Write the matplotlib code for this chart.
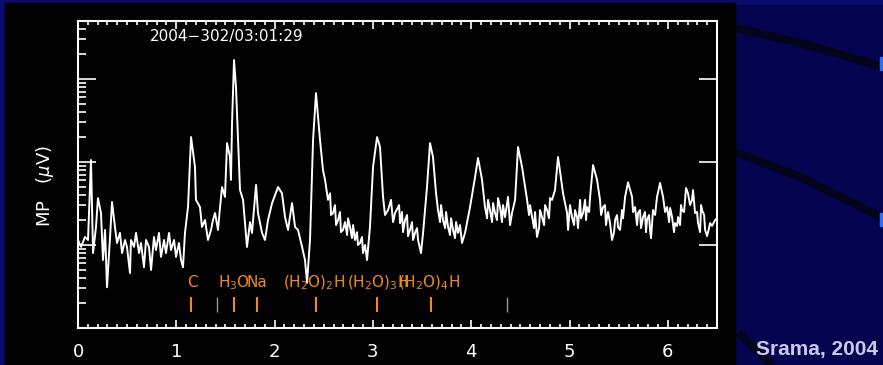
import numpy as np
import matplotlib.pyplot as plt
from matplotlib.ticker import LogLocator, MultipleLocator, NullFormatter
from matplotlib.patches import Rectangle
from matplotlib.lines import Line2D

# spectrum (x axis value, MP in microvolt)
mass = [0.000, 0.031, 0.071, 0.102, 0.132, 0.153, 0.183, 0.203, 0.234, 0.254,
        0.275, 0.295, 0.326, 0.346, 0.376, 0.397, 0.427, 0.448, 0.478, 0.498,
        0.529, 0.539, 0.570, 0.590, 0.621, 0.641, 0.671, 0.692, 0.722, 0.743,
        0.773, 0.793, 0.824, 0.844, 0.875, 0.895, 0.926, 0.946, 0.977, 0.997,
        1.027, 1.048, 1.068, 1.088, 1.119, 1.150, 1.190, 1.200, 1.241, 1.261,
        1.292, 1.322, 1.353, 1.373, 1.394, 1.424, 1.445, 1.465, 1.495, 1.516,
        1.546, 1.556, 1.567, 1.587, 1.607, 1.648, 1.679, 1.719, 1.750, 1.770,
        1.811, 1.831, 1.872, 1.902, 1.933, 1.974, 2.035, 2.075, 2.106, 2.136,
        2.177, 2.208, 2.238, 2.279, 2.309, 2.330, 2.360, 2.391, 2.421, 2.462,
        2.492, 2.513, 2.543, 2.594, 2.645, 2.696, 2.767, 2.818, 2.869, 2.899,
        2.940, 2.970, 3.001, 3.042, 3.072, 3.103, 3.154, 3.225, 3.276, 3.327,
        3.377, 3.428, 3.459, 3.489, 3.510, 3.550, 3.581, 3.611, 3.642, 3.662,
        3.713, 3.764, 3.815, 3.866, 3.906, 3.937, 3.988, 4.039, 4.069, 4.110,
        4.140, 4.191, 4.242, 4.293, 4.344, 4.374, 4.415, 4.446, 4.476, 4.517,
        4.568, 4.619, 4.669, 4.720, 4.771, 4.822, 4.852, 4.883, 4.934, 4.975,
        4.985, 5.025, 5.076, 5.107, 5.137, 5.178, 5.209, 5.239, 5.280, 5.310,
        5.341, 5.382, 5.412, 5.432, 5.463, 5.493, 5.534, 5.565, 5.595, 5.636,
        5.666, 5.697, 5.748, 5.788, 5.819, 5.849, 5.890, 5.921, 5.951, 5.992,
        6.043, 6.073, 6.104, 6.144, 6.175, 6.205, 6.246, 6.277, 6.307, 6.348,
        6.379, 6.429, 6.480, 6.500]
mp = [11.5, 9.5, 12.5, 11.5, 106, 8.0, 16.5, 36.8, 24.3, 6.6,
      15.2, 3.1, 12.5, 33, 16.5, 10.6, 14.0, 8.0, 11.5, 9.5,
      4.6, 11.5, 9.5, 14.0, 8.0, 10.6, 5.4, 11.5, 9.5, 5.0,
      12.5, 8.7, 14.0, 7.2, 11.5, 8.0, 14.0, 8.7, 11.5, 7.2,
      10.6, 6.6, 5.4, 14.0, 28.7, 200, 87, 35, 28.7, 16.5,
      20.0, 11.5, 15.2, 20.0, 24.3, 15.2, 28.7, 50, 38, 169,
      115, 61, 295, 1694, 801, 46, 35, 9.5, 18.9, 14.0,
      53, 24.3, 14.0, 11.5, 20.0, 32, 50, 42, 21.7, 15.2,
      32, 16.5, 15.2, 9.5, 6.6, 3.5, 11.5, 184, 678, 184,
      80, 61, 35, 24.3, 20.0, 15.2, 16.5, 11.5, 10.6, 8.0,
      6.6, 16.5, 87, 200, 152, 38, 26.4, 24.3, 18.4, 20.0,
      15.2, 14.0, 11.5, 8.0, 14.0, 50, 169, 115, 42, 26.4,
      20.0, 16.5, 15.2, 14.0, 10.6, 14.0, 28.7, 66, 112, 61,
      28.7, 26.4, 24.3, 28.7, 21.7, 38, 24.3, 35, 152, 87,
      35, 21.7, 12.5, 21.7, 26.4, 35, 46, 115, 42, 24.3,
      15.2, 21.7, 21.7, 35, 24.3, 28.7, 38, 92, 61, 35,
      28.7, 21.7, 18.4, 11.5, 20.0, 16.5, 26.4, 38, 57, 38,
      28.7, 24.3, 21.7, 20.0, 15.2, 26.4, 38, 56, 38, 28.7,
      21.7, 18.4, 21.7, 26.4, 35, 42, 35, 24.3, 18.4, 26.4,
      15.2, 18.4, 20.0, 21]

# extra samples of the jagged flanks between the peaks
mass_fine = [2.564, 2.574, 2.614, 2.625, 2.665, 2.675, 2.716, 2.737, 2.747, 2.787,
             2.798, 2.838, 2.848, 2.889, 2.920,
             3.123, 3.184, 3.205, 3.266, 3.296, 3.306, 3.347, 3.357, 3.398, 3.408,
             3.449,
             3.683, 3.693, 3.734, 3.744, 3.784, 3.795, 3.835, 3.846, 3.886,
             4.161, 4.171, 4.212, 4.222, 4.262, 4.273, 4.313, 4.323, 4.395,
             4.588, 4.598, 4.639, 4.649, 4.690, 4.700, 4.741, 4.751, 4.791, 4.802,
             5.005, 5.046, 5.056, 5.086, 5.117, 5.158, 5.168, 5.199,
             5.321, 5.361, 5.371, 5.392, 5.453, 5.483, 5.514, 5.544,
             5.646, 5.687, 5.717, 5.727, 5.768, 5.778, 5.809, 5.829, 5.870,
             5.972, 6.013, 6.023, 6.063, 6.094, 6.124, 6.134, 6.165, 6.185, 6.226,
             6.256, 6.297, 6.328, 6.338, 6.369, 6.399, 6.419, 6.450]
mp_fine = [42, 23, 30.3, 17.4, 25.0, 14.3, 18.9, 13.2, 21, 12.1,
           17.4, 14.3, 10.0, 12.5, 10.0,
           23, 35, 18.9, 30.3, 25.0, 14.3, 23, 12.8, 18.9, 11.5,
           16.0,
           18.9, 30.3, 16.0, 25.0, 13.2, 21, 12.1, 18.9, 17.4,
           21, 35, 18.9, 32, 20.0, 36.8, 18.9, 30.3, 17.4,
           23, 30.3, 16.0, 25.0, 16.0, 26.4, 17.4, 30.3, 21, 36.8,
           30.3, 17.4, 26.4, 16.0, 21, 35, 20.0, 25.0,
           23, 30.3, 17.4, 25.0, 14.3, 23, 15.2, 21,
           25.0, 17.4, 26.4, 16.0, 25.0, 14.3, 23, 12.1, 23,
           25.0, 18.9, 28, 14.3, 17, 17.4, 30.3, 25.0, 48.6, 30.3,
           46, 25.0, 14.3, 30.3, 23, 12.8, 16.0, 17]

# line identifications
ion_labels = ['C', r'$\mathrm{H_3O}$', 'Na', r'$\mathrm{(H_2O)_2H}$',
              r'$\mathrm{(H_2O)_3H}$', r'$\mathrm{(H_2O)_4H}$']
ion_label_x = [1.109, 1.424, 1.719, 2.085, 2.737, 3.255]
ion_marks = [1.150, 1.587, 1.821, 2.421, 3.042, 3.591]
other_marks = [1.414, 4.364]

navy = '#03034f'
orange = '#f08a1e'

x_all = np.array(mass + mass_fine)
y_all = np.array(mp + mp_fine)
order = np.argsort(x_all, kind='stable')

fig = plt.figure(figsize=(8.83, 3.65), dpi=100, facecolor=navy)

# slide decorations behind the plot
fig.patches.append(Rectangle((0, 0), 1, 1, transform=fig.transFigure,
                             color='#0a0a6e', zorder=-3))
fig.patches.append(Rectangle((0.25, 0), 0.75, 0.985, transform=fig.transFigure,
                             color=navy, zorder=-2))
for xs, ys in [([735, 800, 883], [28, 43, 67]),
               ([735, 800, 883], [152, 177, 218]),
               ([738, 755, 772], [333, 348, 365])]:
    fig.lines.append(Line2D(np.array(xs) / 883, 1 - np.array(ys) / 365,
                            transform=fig.transFigure, color='#04041c',
                            lw=6, zorder=-1, solid_capstyle='butt'))
for yb in [57, 213]:
    fig.patches.append(Rectangle((880 / 883, 1 - (yb + 13) / 365), 4 / 883, 13 / 365,
                                 transform=fig.transFigure, color='#2f6cf2', zorder=-1))
fig.patches.append(Rectangle((5 / 883, 0), 730 / 883, 1 - 3 / 365,
                             transform=fig.transFigure, color='black', zorder=-0.5))

ax = fig.add_axes([78 / 883, 1 - 328 / 365, 639 / 883, 307 / 365])
ax.set_zorder(1)
ax.set_facecolor('black')
ax.plot(x_all[order], y_all[order], color='white', lw=1.4)

ax.set_yscale('log')
ax.set_xlim(0, 6.5)
ax.set_ylim(1, 10 ** 3.7)

ax.xaxis.set_major_locator(MultipleLocator(1))
ax.xaxis.set_minor_locator(MultipleLocator(0.1))
ax.yaxis.set_major_locator(LogLocator(base=10, numticks=10))
ax.yaxis.set_minor_locator(LogLocator(base=10, subs=np.arange(2, 10), numticks=40))
ax.yaxis.set_major_formatter(NullFormatter())
ax.yaxis.set_minor_formatter(NullFormatter())

ax.tick_params(axis='x', which='major', direction='in', length=6, width=1.2,
               colors='white', top=True, labelsize=13, pad=11)
ax.tick_params(axis='x', which='minor', direction='in', length=3, width=1.2,
               colors='white', top=True)
ax.tick_params(axis='y', which='major', direction='in', length=13, width=1.2,
               colors='white', left=True, right=True)
ax.tick_params(axis='y', which='minor', direction='in', length=6, width=1.2,
               colors='white', left=True, right=False)
for spine in ax.spines.values():
    spine.set_color('white')
    spine.set_linewidth(1.5)

ax.text(0.113, 0.935, '2004\u2212302/03:01:29', transform=ax.transAxes,
        color='white', fontsize=11, va='baseline', ha='left')

for lab, xl in zip(ion_labels, ion_label_x):
    ax.text(xl, 0.134, lab, transform=ax.get_xaxis_transform(), color=orange,
            fontsize=11, va='baseline', ha='left')
ax.vlines(ion_marks, 0.052, 0.101, transform=ax.get_xaxis_transform(),
          color=orange, lw=1.5)
ax.vlines(other_marks, 0.052, 0.101, transform=ax.get_xaxis_transform(),
          color='#9a9a9a', lw=1)

fig.text(45 / 883, 1 - 186 / 365, r'MP   ($\mu$V)', rotation=90, color='white',
         fontsize=13, ha='center', va='center')
fig.text(878 / 883, 1 - 349 / 365, 'Srama, 2004', color='#c9c9ec', fontsize=15,
         fontweight='bold', family='Liberation Sans', ha='right', va='center')

fig.savefig('out.png', dpi=100, facecolor=fig.get_facecolor())
